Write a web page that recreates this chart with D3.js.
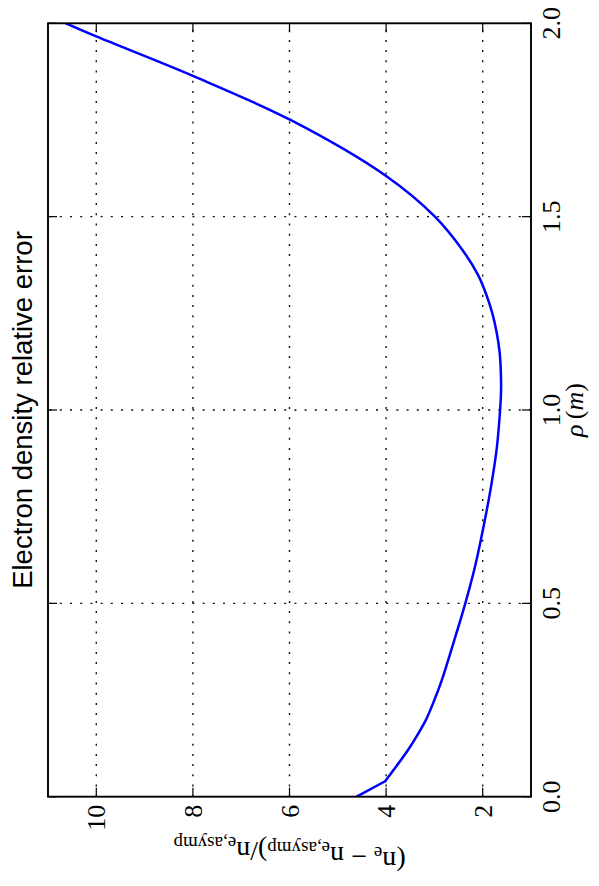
<!DOCTYPE html>
<html>
<head>
<meta charset="utf-8">
<script src="https://cdn.jsdelivr.net/npm/d3@7"></script>
<style>
  html, body { margin: 0; padding: 0; background: #fff; }
  svg { display: block; }
  .serif { font-family: "Liberation Serif", "DejaVu Serif", "Times New Roman", serif; }
  .sans { font-family: "Liberation Sans", Arial, Helvetica, sans-serif; }
</style>
</head>
<body>
<div id="chart"></div>
<script>
// Electron density relative error versus minor radius rho
const rho = [0.00, 0.04, 0.08, 0.12, 0.16, 0.20, 0.25, 0.30, 0.40, 0.50, 0.60, 0.70, 0.80, 0.90,
             1.00, 1.05, 1.10, 1.15, 1.20, 1.25, 1.30, 1.35, 1.414, 1.50, 1.605, 1.75, 1.864, 1.966, 2.00];
const relErr = [4.61, 4.02, 3.78, 3.55, 3.35, 3.17, 3.00, 2.85, 2.60, 2.36, 2.15, 1.98, 1.83, 1.71,
                1.64, 1.62, 1.625, 1.65, 1.71, 1.80, 1.93, 2.10, 2.42, 2.99, 4.00, 5.98, 8.00, 10.00, 10.63];

const xTicks = [0.0, 0.5, 1.0, 1.5, 2.0];
const yTicks = [2, 4, 6, 8, 10];
const xDomain = [0, 2];
const yDomain = [1, 11];

const titleText = "Electron density relative error";

// The figure is laid out landscape (886 x 599) and turned a quarter turn
const W = 886, H = 599;
const margin = { left: 89.3, right: 23.3, top: 48, bottom: 68 };

const svg = d3.select("#chart").append("svg")
  .attr("width", H).attr("height", W);

const g = svg.append("g").attr("transform", `translate(0,${W}) rotate(-90)`);

const x = d3.scaleLinear().domain(xDomain).range([margin.left, W - margin.right]);
const y = d3.scaleLinear().domain(yDomain).range([H - margin.bottom, margin.top]);

const x0 = x.range()[0], x1 = x.range()[1];
const y0 = y.range()[0], y1 = y.range()[1];

// dotted grid
const grid = g.append("g").attr("stroke", "#111").attr("stroke-width", 1.4)
  .attr("stroke-dasharray", "2,8.2").attr("fill", "none");
xTicks.filter(t => t > xDomain[0] && t < xDomain[1]).forEach(t => {
  grid.append("line").attr("x1", x(t)).attr("x2", x(t)).attr("y1", y0).attr("y2", y1);
});
yTicks.forEach(t => {
  grid.append("line").attr("y1", y(t)).attr("y2", y(t)).attr("x1", x0).attr("x2", x1);
});

// data curve: straight first segment, smooth afterwards
const pts = rho.map((r, i) => [r, relErr[i]]);
const lineLin = d3.line().x(d => x(d[0])).y(d => y(d[1]));
const lineSmooth = d3.line().x(d => x(d[0])).y(d => y(d[1])).curve(d3.curveCatmullRom.alpha(0.5));
const clipId = "plotclip";
g.append("clipPath").attr("id", clipId).append("rect")
  .attr("x", x0).attr("y", y1).attr("width", x1 - x0).attr("height", y0 - y1);
const curveG = g.append("g").attr("clip-path", `url(#${clipId})`)
  .attr("fill", "none").attr("stroke", "#0000ff").attr("stroke-width", 2.5)
  .attr("stroke-linejoin", "round").attr("stroke-linecap", "round");
curveG.append("path").attr("d", lineLin(pts.slice(0, 2)));
curveG.append("path").attr("d", lineSmooth(pts.slice(1)));

// inward ticks on all four sides
const tl = 9;
const ticks = g.append("g").attr("stroke", "#000").attr("stroke-width", 1.2);
xTicks.forEach(t => {
  ticks.append("line").attr("x1", x(t)).attr("x2", x(t)).attr("y1", y0).attr("y2", y0 - tl);
  ticks.append("line").attr("x1", x(t)).attr("x2", x(t)).attr("y1", y1).attr("y2", y1 + tl);
});
yTicks.forEach(t => {
  ticks.append("line").attr("y1", y(t)).attr("y2", y(t)).attr("x1", x0).attr("x2", x0 + tl);
  ticks.append("line").attr("y1", y(t)).attr("y2", y(t)).attr("x1", x1).attr("x2", x1 - tl);
});

// frame
g.append("rect").attr("x", x0).attr("y", y1).attr("width", x1 - x0).attr("height", y0 - y1)
  .attr("fill", "none").attr("stroke", "#000").attr("stroke-width", 1.9);

// tick labels
g.append("g").selectAll("text").data(xTicks).join("text")
  .attr("class", "serif")
  .attr("x", d => x(d)).attr("y", y0 + 29)
  .attr("text-anchor", "middle")
  .attr("font-size", 26)
  .text(d => d3.format(".1f")(d));

g.append("g").selectAll("text").data(yTicks).join("text")
  .attr("class", "serif")
  .attr("x", x0 - 8).attr("y", d => y(d) + 9)
  .attr("text-anchor", "end")
  .attr("font-size", 26)
  .text(d => d);

// x axis label: rho (m)
const xl = g.append("text")
  .attr("class", "serif")
  .attr("x", (x0 + x1) / 2).attr("y", y0 + 52)
  .attr("text-anchor", "middle")
  .attr("font-size", 26);
xl.append("tspan").attr("font-style", "italic").text("ρ");
xl.append("tspan").text("\u2009(");
xl.append("tspan").attr("font-style", "italic").text("m");
xl.append("tspan").text(")");

// y axis label: (n_e - n_e,asymp)/n_e,asymp
const yl = g.append("text")
  .attr("class", "serif")
  .attr("transform", `translate(34,${(y0 + y1) / 2}) rotate(-90)`)
  .attr("text-anchor", "middle")
  .attr("font-size", 28);
const sub = (txt) => {
  yl.append("tspan").attr("font-size", 19).attr("dy", 5).text(txt);
  yl.append("tspan").attr("dy", -5).text("");
};
yl.append("tspan").text("(n");
sub("e");
yl.append("tspan").text(" \u2212 n");
sub("e,asymp");
yl.append("tspan").text(")/n");
sub("e,asymp");

// title
g.append("text")
  .attr("class", "sans")
  .attr("x", (x0 + x1) / 2).attr("y", 32)
  .attr("text-anchor", "middle")
  .attr("font-size", 27.5)
  .text(titleText);
</script>
</body>
</html>
